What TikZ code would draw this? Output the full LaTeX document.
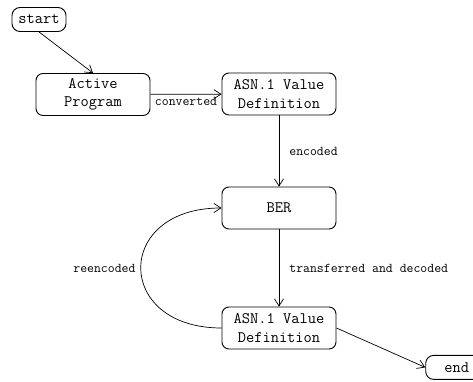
\documentclass[tikz,border=0pt]{standalone}
\usetikzlibrary{arrows.meta}

\tikzset{
	state/.style={draw, line width=0.9pt, rounded corners=7pt, align=center,
		font=\ttfamily\fontsize{16}{18.5}\selectfont,
		minimum width=114pt, minimum height=42pt, inner sep=2pt},
	term/.style={draw, line width=0.9pt, rounded corners=8pt,
		font=\ttfamily\fontsize{16}{18.5}\selectfont,
		minimum height=24pt, inner sep=3pt},
	lbl/.style={font=\ttfamily\fontsize{13.4}{15}\selectfont, inner sep=2pt},
	trans/.style={-{Straight Barb[length=7pt,width=9pt]}, line width=0.7pt}
}

\begin{document}
\begin{tikzpicture}[x=1pt,y=-1pt]
	\useasboundingbox (0,0) rectangle (473,382);
	\node[term, minimum width=54pt] (start) at (39,19.5) {start};
	\node[state] (active) at (93,94.5) {Active\\Program};
	\node[state] (asnA) at (279,94) {ASN.1 Value\\Definition};
	\node[state] (ber) at (279,208) {BER};
	\node[state] (asnB) at (279,328) {ASN.1 Value\\Definition};
	\node[term, minimum width=62pt] (end) at (456.7,367.4) {end};

	\draw[trans] (start.south) -- (active.north);
	\draw[trans] (active) -- (asnA) node[lbl, midway, below=1pt] {converted};
	\draw[trans] (asnA) -- (ber) node[lbl, midway, right=8pt] {encoded};
	\draw[trans] (ber) -- (asnB) node[lbl, midway, right=8pt] {transferred and decoded};
	\draw[trans] (asnB.west) to[out=180, in=180, looseness=2.3] node[lbl, left=3pt] {reencoded} (ber.west);
	\draw[trans] (asnB.east) -- (end.west);
\end{tikzpicture}
\end{document}
